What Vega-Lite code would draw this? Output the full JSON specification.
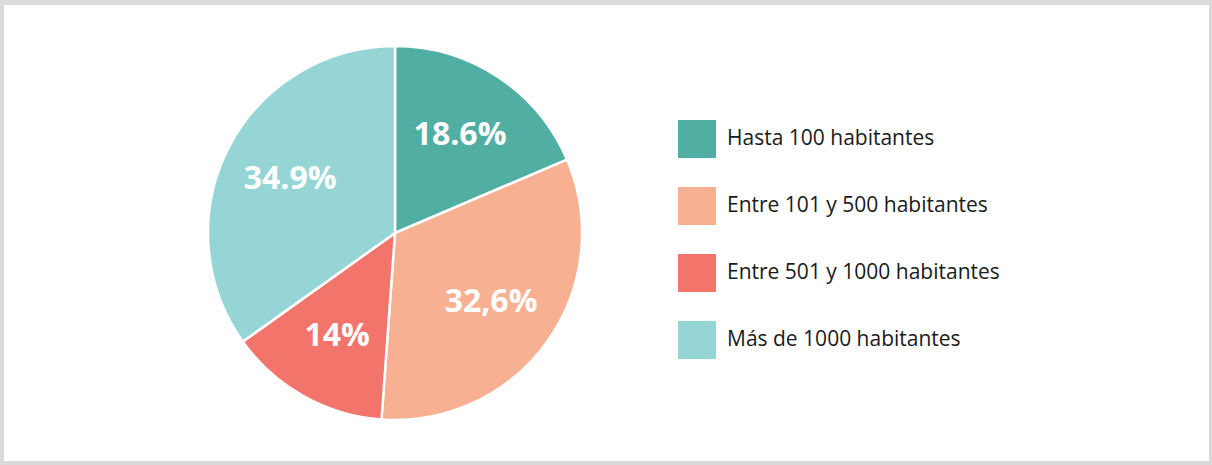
{
  "$schema": "https://vega.github.io/schema/vega-lite/v6.json",
  "background": "#d9dbda",
  "padding": {"left": 4, "top": 5, "right": 3, "bottom": 4},
  "spacing": 0,
  "config": {
    "view": {"stroke": "#ffffff", "strokeWidth": 0, "fill": "#ffffff"},
    "style": {"cell": {"fill": "#ffffff", "stroke": "#ffffff", "strokeWidth": 0}},
    "concat": {"spacing": 0}
  },
  "datasets": {
    "grupos": [
      {"grupo": "Hasta 100 habitantes", "porcentaje": 18.6, "etiqueta": "18.6%", "orden": 1},
      {"grupo": "Entre 101 y 500 habitantes", "porcentaje": 32.6, "etiqueta": "32,6%", "orden": 2},
      {"grupo": "Entre 501 y 1000 habitantes", "porcentaje": 14, "etiqueta": "14%", "orden": 3},
      {"grupo": "Más de 1000 habitantes", "porcentaje": 34.9, "etiqueta": "34.9%", "orden": 4}
    ]
  },
  "hconcat": [
    {
      "width": 782,
      "height": 456,
      "view": {"fill": "#ffffff", "stroke": "#ffffff", "strokeWidth": 0},
      "data": {"name": "grupos"},
      "layer": [
        {
          "mark": {"type": "arc", "outerRadius": 187, "stroke": "white", "strokeWidth": 2.5},
          "encoding": {
            "theta": {"field": "porcentaje", "type": "quantitative", "stack": true},
            "order": {"field": "orden", "type": "quantitative"},
            "color": {
              "field": "grupo",
              "type": "nominal",
              "scale": {
                "domain": ["Hasta 100 habitantes", "Entre 101 y 500 habitantes", "Entre 501 y 1000 habitantes", "Más de 1000 habitantes"],
                "range": ["#50aea3", "#f8b092", "#f2746a", "#96d5d5"]
              },
              "legend": {
                "orient": "none",
                "legendX": 674,
                "legendY": 115,
                "title": null,
                "symbolType": "square",
                "symbolSize": 1444,
                "symbolStrokeWidth": 0,
                "symbolOpacity": 1,
                "labelFont": "Open Sans",
                "labelFontSize": 21,
                "labelColor": "#1a1a1a",
                "labelOffset": 11,
                "labelLimit": 400,
                "rowPadding": 29
              }
            }
          }
        },
        {
          "mark": {"type": "text", "radius": 118, "font": "Open Sans", "fontWeight": "bold", "fontSize": 32, "fill": "white"},
          "encoding": {
            "theta": {"field": "porcentaje", "type": "quantitative", "stack": true},
            "order": {"field": "orden", "type": "quantitative"},
            "text": {"field": "etiqueta", "type": "nominal"}
          }
        }
      ]
    },
    {
      "width": 423,
      "height": 456,
      "view": {"fill": "#ffffff", "stroke": "#ffffff", "strokeWidth": 0},
      "data": {"values": [{"relleno": 0}]},
      "mark": {"type": "rect", "opacity": 0},
      "encoding": {}
    }
  ]
}
